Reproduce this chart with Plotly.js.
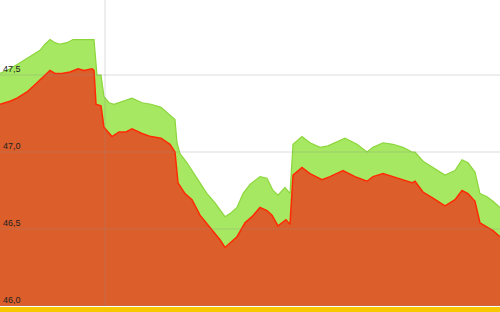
<!DOCTYPE html>
<html>
<head>
<meta charset="utf-8">
<script src="https://cdn.plot.ly/plotly-3.0.1.min.js"></script>
<style>html,body{margin:0;padding:0;background:#fff;}#chart{width:500px;height:312px;}</style>
</head>
<body>
<div id="chart"></div>
<script>
// time index (sample position) and values
var tUpper = [0,10,20,30,40,45,50,55,60,67,73,80,84,92,94,97,101,104,109,114,119,124,132,142,151,161,170,175,177,180,187,192,200,207,215,225,230,237,243,250,260,267,273,278,285,290,293,302,310,320,328,335,345,357,367,373,383,393,403,412,415,423,433,445,455,462,468,475,480,487,493,500];
var upper = [47.51,47.54,47.58,47.62,47.66,47.70,47.73,47.71,47.70,47.71,47.73,47.73,47.73,47.73,47.73,47.50,47.50,47.36,47.32,47.31,47.32,47.33,47.35,47.32,47.31,47.29,47.24,47.21,47.06,46.99,46.93,46.88,46.80,46.73,46.67,46.58,46.60,46.64,46.73,46.79,46.84,46.83,46.75,46.72,46.77,46.73,47.05,47.10,47.06,47.03,47.04,47.06,47.09,47.05,47.00,47.03,47.06,47.05,47.03,47.00,47.00,46.94,46.90,46.85,46.88,46.95,46.93,46.87,46.73,46.71,46.68,46.64];

var tLower = [0,10,17,27,37,45,50,55,62,70,78,84,92,94,96,101,104,112,119,126,132,142,151,161,168,170,175,178,185,192,200,210,220,225,230,237,245,252,260,267,272,278,286,290,293,302,310,322,330,343,355,367,373,383,393,403,412,415,423,433,445,455,462,468,475,480,487,493,500];
var lower = [47.31,47.33,47.35,47.39,47.45,47.50,47.53,47.51,47.51,47.52,47.54,47.53,47.54,47.53,47.31,47.30,47.16,47.10,47.13,47.13,47.15,47.12,47.10,47.09,47.06,47.05,47.00,46.80,46.73,46.69,46.59,46.51,46.43,46.38,46.41,46.45,46.54,46.58,46.64,46.62,46.59,46.52,46.56,46.53,46.85,46.90,46.86,46.82,46.84,46.88,46.84,46.81,46.84,46.86,46.84,46.82,46.80,46.81,46.74,46.70,46.65,46.69,46.75,46.73,46.68,46.54,46.51,46.49,46.45];

var yTicks = [46.0, 46.5, 47.0, 47.5];
var markerT = 105;

var traces = [
  {x: tUpper, y: upper, type: 'scatter', mode: 'lines', fill: 'tozeroy',
   fillcolor: '#a6e862', line: {color: '#8cd63c', width: 1.2}, hoverinfo: 'skip'},
  {x: tLower, y: lower, type: 'scatter', mode: 'lines', fill: 'tozeroy',
   fillcolor: '#dc5e2b', line: {color: '#ff2a05', width: 1.5}, hoverinfo: 'skip'}
];

var shapes = yTicks.map(function(v){
  return {type:'line', xref:'paper', yref:'y', x0:0, x1:1, y0:v, y1:v,
          line:{color:'rgba(140,140,140,0.3)', width:1}, layer:'above'};
});
shapes.push({type:'line', xref:'x', yref:'paper', x0:markerT, x1:markerT, y0:0, y1:1,
             line:{color:'rgba(140,140,140,0.3)', width:1}, layer:'above'});
shapes.push({type:'rect', xref:'paper', yref:'paper', x0:0, x1:1, y0:-6/306, y1:-1/306,
             fillcolor:'#f7c800', line:{width:0}, layer:'above'});

var layout = {
  width: 500, height: 312,
  margin: {l:0, r:0, t:0, b:6, pad:0},
  paper_bgcolor: '#ffffff', plot_bgcolor: '#ffffff',
  showlegend: false,
  separators: ',.',
  xaxis: {range:[0,500], showgrid:false, zeroline:false, showticklabels:false, ticks:'', showline:false, fixedrange:true},
  yaxis: {range:[46, 47.987], tickvals: yTicks, tickformat:'.1f', ticklabelposition:'inside top',
          showgrid:false, zeroline:false, ticks:'', showline:false,
          tickfont:{family:'Liberation Sans, Arial, sans-serif', size:9, color:'#222222'}, fixedrange:true},
  shapes: shapes
};

Plotly.newPlot('chart', traces, layout, {displayModeBar:false, staticPlot:true});
</script>
</body>
</html>
